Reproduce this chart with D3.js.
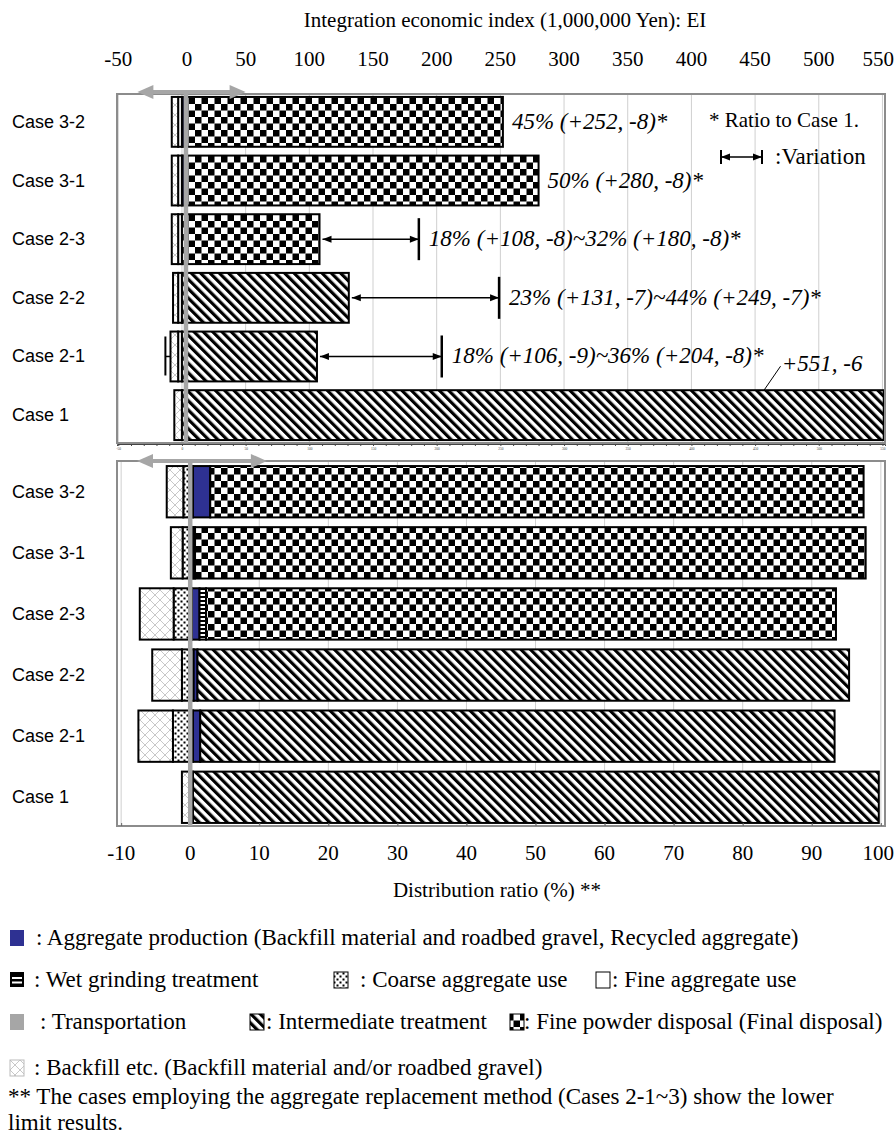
<!DOCTYPE html>
<html>
<head>
<meta charset="utf-8">
<script src="https://cdn.jsdelivr.net/npm/d3@7"></script>
<style>
body { margin: 0; background: #fff; }
text { font-family: "Liberation Serif", "Times New Roman", serif; }
.case { font-family: "Liberation Sans", Arial, sans-serif; }
</style>
</head>
<body>
<svg id="chart"></svg>
<script>
// cases, top to bottom
const cases = ['Case 3-2', 'Case 3-1', 'Case 2-3', 'Case 2-2', 'Case 2-1', 'Case 1'];

// upper panel: integration economic index (1,000,000 Yen)
const eiBackfill = [-5, -5, -5, -4, -6, -6];
const eiFine = [-3, -3, -3, -3, -3, 0];
const eiProduction = [2, 2, 0, 0, 0, 0];
const eiIntermediate = [0, 0, 0, 131, 106, 551];
const eiFinePowder = [250, 278, 108, 0, 0, 0];
const eiUpper = [null, null, 186, 249, 204, null];
const eiLabels = ['45% (+252, -8)*', '50% (+280, -8)*', '18% (+108, -8)~32% (+180, -8)*',
  '23% (+131, -7)~44% (+249, -7)*', '18% (+106, -9)~36% (+204, -8)*', '+551, -6'];
const eiTicks = [-50, 0, 50, 100, 150, 200, 250, 300, 350, 400, 450, 500, 550];

// lower panel: distribution ratio (%)
const drBackfill = [-2.4, -1.7, -4.9, -4.3, -5.0, -1.2];
const drCoarse = [-1.0, -1.1, -2.4, -1.2, -2.5, 0];
const drTransport = [0.4, 0.4, 0.25, 0.5, 0.4, 0.4];
const drProduction = [2.5, 0.3, 1.1, 0.55, 1.05, 0];
const drWet = [0, 0, 0.95, 0, 0, 0];
const drIntermediate = [0, 0, 0, 94.35, 91.85, 99.3];
const drFinePowder = [94.6, 97.1, 91.2, 0, 0, 0];
const drTicks = [-10, 0, 10, 20, 30, 40, 50, 60, 70, 80, 90, 100];

const WIDTH = 895, HEIGHT = 1139;
const LEFT = 117, RIGHT = 885;
const TOP1 = 94, BOT1 = 443, TOP2 = 461, BOT2 = 826;

const svg = d3.select('#chart').attr('width', WIDTH).attr('height', HEIGHT);
const defs = svg.append('defs');

// fill patterns
const checker = defs.append('pattern').attr('id', 'checker').attr('patternUnits', 'userSpaceOnUse')
  .attr('width', 13).attr('height', 13);
checker.append('rect').attr('width', 13).attr('height', 13).attr('fill', '#fff');
checker.append('rect').attr('width', 6.5).attr('height', 6.5).attr('fill', '#000');
checker.append('rect').attr('x', 6.5).attr('y', 6.5).attr('width', 6.5).attr('height', 6.5).attr('fill', '#000');

const diag = defs.append('pattern').attr('id', 'diag').attr('patternUnits', 'userSpaceOnUse')
  .attr('width', 6.6).attr('height', 6.6).attr('patternTransform', 'rotate(-45)');
diag.append('rect').attr('width', 6.6).attr('height', 6.6).attr('fill', '#fff');
diag.append('rect').attr('width', 3.2).attr('height', 6.6).attr('fill', '#000');

const cross = defs.append('pattern').attr('id', 'cross').attr('patternUnits', 'userSpaceOnUse')
  .attr('width', 10).attr('height', 10);
cross.append('rect').attr('width', 10).attr('height', 10).attr('fill', '#fff');
cross.append('path').attr('d', 'M0,0L10,10M10,0L0,10').attr('stroke', '#c8c8c8').attr('stroke-width', 1);

const dots = defs.append('pattern').attr('id', 'dots').attr('patternUnits', 'userSpaceOnUse')
  .attr('width', 6).attr('height', 6);
dots.append('rect').attr('width', 6).attr('height', 6).attr('fill', '#fff');
dots.append('rect').attr('x', 0.5).attr('y', 0.5).attr('width', 2).attr('height', 2).attr('fill', '#000');
dots.append('rect').attr('x', 3.5).attr('y', 3.5).attr('width', 2).attr('height', 2).attr('fill', '#000');

const hstripe = defs.append('pattern').attr('id', 'hstripe').attr('patternUnits', 'userSpaceOnUse')
  .attr('width', 4).attr('height', 4);
hstripe.append('rect').attr('width', 4).attr('height', 4).attr('fill', '#fff');
hstripe.append('rect').attr('width', 4).attr('height', 2).attr('fill', '#000');

const BLUE = '#2e3192', GREY = '#a6a6a6';

function stackRows(neg, pos) {
  // neg and pos: lists of [values, fill]; negative stack outward from 0
  return cases.map((c, i) => {
    const segs = [];
    let lo = 0;
    neg.forEach(([vals, fill]) => {
      if (vals[i] !== 0) { segs.push({c, x0: lo + vals[i], x1: lo, fill}); lo += vals[i]; }
    });
    let hi = 0;
    pos.forEach(([vals, fill]) => {
      if (vals[i] !== 0) { segs.push({c, x0: hi, x1: hi + vals[i], fill}); hi += vals[i]; }
    });
    return segs;
  }).flat();
}

function drawPanel(g, x, y, top, bottom, segs, gridVals) {
  g.append('g').selectAll('line').data(gridVals).enter().append('line')
    .attr('x1', d => x(d)).attr('x2', d => x(d))
    .attr('y1', top).attr('y2', bottom)
    .attr('stroke', '#cfcfcf').attr('stroke-width', 1);
  g.append('g').selectAll('rect').data(segs).enter().append('rect')
    .attr('x', d => x(d.x0)).attr('width', d => x(d.x1) - x(d.x0))
    .attr('y', d => y(d.c)).attr('height', y.bandwidth())
    .attr('fill', d => d.fill).attr('stroke', '#000').attr('stroke-width', 2);
  g.append('rect').attr('x', LEFT).attr('y', top).attr('width', RIGHT - LEFT).attr('height', bottom - top)
    .attr('fill', 'none').attr('stroke', '#8c8c8c').attr('stroke-width', 2);
}

function greyArrow(g, x0, x1, yy) {
  g.append('line').attr('x1', x0 + 12).attr('x2', x1 - 12).attr('y1', yy).attr('y2', yy)
    .attr('stroke', GREY).attr('stroke-width', 4);
  g.append('path').attr('d', `M${x0},${yy}L${x0 + 16},${yy - 7}L${x0 + 16},${yy + 7}Z`).attr('fill', GREY);
  g.append('path').attr('d', `M${x1},${yy}L${x1 - 16},${yy - 7}L${x1 - 16},${yy + 7}Z`).attr('fill', GREY);
}

function blackArrowHead(g, xTip, yy, dir) {
  g.append('path').attr('d', `M${xTip},${yy}L${xTip - dir * 9},${yy - 3.5}L${xTip - dir * 9},${yy + 3.5}Z`)
    .attr('fill', '#000');
}

// ---------------- upper panel ----------------
const x1 = d3.scaleLinear().domain([-51, 552]).range([LEFT, RIGHT]);
const y1 = d3.scaleBand().domain(cases).range([TOP1, BOT1]).paddingInner(0.15).paddingOuter(0.05);
const upper = svg.append('g');

drawPanel(upper, x1, y1, TOP1, BOT1, stackRows(
  [[eiFine, '#fff'], [eiBackfill, 'url(#cross)']],
  [[eiProduction, BLUE], [eiIntermediate, 'url(#diag)'], [eiFinePowder, 'url(#checker)']]
), eiTicks);

// tiny axis under the upper panel
upper.append('g').attr('transform', `translate(0,${BOT1 + 1})`)
  .call(d3.axisBottom(x1).tickValues(d3.range(-50, 551, 10)).tickSize(2)
    .tickFormat(d => d % 50 === 0 ? d : ''))
  .call(a => a.select('.domain').attr('stroke', '#444'))
  .call(a => a.selectAll('.tick line').attr('stroke', '#444'))
  .call(a => a.selectAll('text').attr('font-size', 3.5).attr('fill', '#444').attr('dy', '0.4em'));

// top tick labels and title
upper.append('g').selectAll('text').data(eiTicks).enter().append('text')
  .attr('x', d => d === 550 ? 894 : x1(d) + (d === 0 ? 5 : 0)).attr('y', 66)
  .attr('text-anchor', d => d === 550 ? 'end' : 'middle').attr('font-size', 21).text(d => d);
upper.append('text').attr('x', 505).attr('y', 27).attr('text-anchor', 'middle')
  .attr('font-size', 21).text('Integration economic index (1,000,000 Yen): EI');

// zero line and grey arrow
upper.append('line').attr('x1', x1(0) + 4).attr('x2', x1(0) + 4).attr('y1', TOP1 - 2).attr('y2', BOT1)
  .attr('stroke', GREY).attr('stroke-width', 4.5);
greyArrow(upper, x1(-35), x1(50), TOP1 - 2);

// variation arrows, labels
const lab = upper.append('g');
cases.forEach((c, i) => {
  const end = eiProduction[i] + eiIntermediate[i] + eiFinePowder[i];
  const cy = y1(c) + y1.bandwidth() / 2;
  let xs = x1(end) + 9;
  if (eiUpper[i] !== null) {
    const xa = x1(end) + 3, xb = x1(eiUpper[i]);
    lab.append('line').attr('x1', xa).attr('x2', xb).attr('y1', cy).attr('y2', cy)
      .attr('stroke', '#000').attr('stroke-width', 1.5);
    blackArrowHead(lab, xa, cy, -1);
    blackArrowHead(lab, xb, cy, 1);
    lab.append('line').attr('x1', xb).attr('x2', xb).attr('y1', cy - 21).attr('y2', cy + 21)
      .attr('stroke', '#000').attr('stroke-width', 2.5);
    xs = xb + 10;
  }
  if (i < 5) {
    lab.append('text').attr('x', xs).attr('y', cy + 7).attr('font-size', 23)
      .attr('font-style', 'italic').text(eiLabels[i]);
  }
});
// Case 1 label with leader
const c1y = y1('Case 1');
lab.append('line').attr('x1', x1(457)).attr('y1', c1y).attr('x2', x1(470)).attr('y2', c1y - 24)
  .attr('stroke', '#000').attr('stroke-width', 1);
lab.append('text').attr('x', x1(471)).attr('y', c1y - 19).attr('font-size', 23)
  .attr('font-style', 'italic').text(eiLabels[5]);
// negative variation mark on Case 2-1
const c21 = y1('Case 2-1') + y1.bandwidth() / 2;
lab.append('line').attr('x1', x1(-13)).attr('x2', x1(-13)).attr('y1', c21 - 20).attr('y2', c21 + 19)
  .attr('stroke', '#000').attr('stroke-width', 2);
lab.append('line').attr('x1', x1(-13)).attr('x2', x1(-9)).attr('y1', c21).attr('y2', c21)
  .attr('stroke', '#000').attr('stroke-width', 1.5);

// notes in upper right
lab.append('text').attr('x', 709).attr('y', 127).attr('font-size', 21).text('* Ratio to Case 1.');
const vy = 157;
lab.append('line').attr('x1', 721).attr('x2', 762).attr('y1', vy).attr('y2', vy).attr('stroke', '#000').attr('stroke-width', 1.5);
blackArrowHead(lab, 721, vy, -1);
blackArrowHead(lab, 762, vy, 1);
lab.append('line').attr('x1', 721).attr('x2', 721).attr('y1', vy - 7).attr('y2', vy + 7).attr('stroke', '#000').attr('stroke-width', 2);
lab.append('line').attr('x1', 762).attr('x2', 762).attr('y1', vy - 7).attr('y2', vy + 7).attr('stroke', '#000').attr('stroke-width', 2);
lab.append('text').attr('x', 775).attr('y', vy + 7).attr('font-size', 23).text(':Variation');

// ---------------- lower panel ----------------
const x2 = d3.scaleLinear().domain([-10.6, 100.6]).range([LEFT, RIGHT]);
const y2 = d3.scaleBand().domain(cases).range([TOP2 + 2, BOT2]).paddingInner(0.16).paddingOuter(0.05);
const lower = svg.append('g');

drawPanel(lower, x2, y2, TOP2, BOT2, stackRows(
  [[drCoarse, 'url(#dots)'], [drBackfill, 'url(#cross)']],
  [[drTransport, GREY], [drProduction, BLUE], [drWet, 'url(#hstripe)'],
   [drIntermediate, 'url(#diag)'], [drFinePowder, 'url(#checker)']]
), drTicks);

lower.append('g').attr('transform', `translate(0,${BOT2})`)
  .call(d3.axisTop(x2).tickValues(drTicks).tickSize(3).tickFormat(''))
  .call(a => a.select('.domain').remove())
  .call(a => a.selectAll('.tick line').attr('stroke', '#666'));

lower.append('line').attr('x1', x2(0)).attr('x2', x2(0)).attr('y1', TOP2).attr('y2', BOT2)
  .attr('stroke', GREY).attr('stroke-width', 4.5);
greyArrow(lower, x2(-7.7), x2(11.1), TOP2);

lower.append('g').selectAll('text').data(drTicks).enter().append('text')
  .attr('x', d => d === 100 ? 894 : x2(d)).attr('y', 860)
  .attr('text-anchor', d => d === 100 ? 'end' : 'middle').attr('font-size', 21).text(d => d);
lower.append('text').attr('x', 497).attr('y', 897).attr('text-anchor', 'middle').attr('font-size', 21)
  .text('Distribution ratio (%) **');

// case labels
[[y1], [y2]].forEach(([y]) => {
  svg.append('g').selectAll('text').data(cases).enter().append('text')
    .attr('class', 'case').attr('x', 12).attr('y', d => y(d) + y.bandwidth() / 2 + 6)
    .attr('font-size', 18).text(d => d);
});

// ---------------- legend ----------------
const legendRows = [
  [[BLUE, ': Aggregate production (Backfill material and roadbed gravel, Recycled aggregate)', 10, 36]],
  [['wet', ': Wet grinding treatment', 10, 34], ['url(#dots)', ': Coarse aggregate use', 334, 360], ['#fff', ': Fine aggregate use', 596, 612]],
  [[GREY, ': Transportation', 10, 40], ['url(#diag)', ': Intermediate treatment', 250, 266], ['url(#checker)', ': Fine powder disposal (Final disposal)', 510, 524]],
  [['url(#cross)', ': Backfill etc. (Backfill material and/or roadbed gravel)', 10, 34]]
];
const legendY = [938, 980, 1022, 1068];
const leg = svg.append('g');
legendRows.forEach((row, r) => {
  const cy = legendY[r];
  row.forEach(([fill, label, bx, tx]) => {
    if (fill === 'wet') {
      leg.append('rect').attr('x', bx).attr('y', cy - 8).attr('width', 14).attr('height', 15).attr('fill', '#000');
      leg.append('rect').attr('x', bx + 2).attr('y', cy - 3).attr('width', 10).attr('height', 2).attr('fill', '#fff');
      leg.append('rect').attr('x', bx + 2).attr('y', cy + 1.5).attr('width', 10).attr('height', 2).attr('fill', '#fff');
    } else {
      leg.append('rect').attr('x', bx).attr('y', cy - 8).attr('width', 14).attr('height', 16)
        .attr('fill', fill).attr('stroke', fill === BLUE || fill === GREY ? 'none' : (fill === 'url(#cross)' ? '#bbb' : '#000'))
        .attr('stroke-width', 1);
    }
    leg.append('text').attr('x', tx).attr('y', cy + 7).attr('font-size', 23).text(label);
  });
});
leg.append('text').attr('x', 8).attr('y', 1104).attr('font-size', 23)
  .text('** The cases employing the aggregate replacement method (Cases 2-1~3) show the lower');
leg.append('text').attr('x', 8).attr('y', 1130).attr('font-size', 23).text('limit results.');
</script>
</body>
</html>
